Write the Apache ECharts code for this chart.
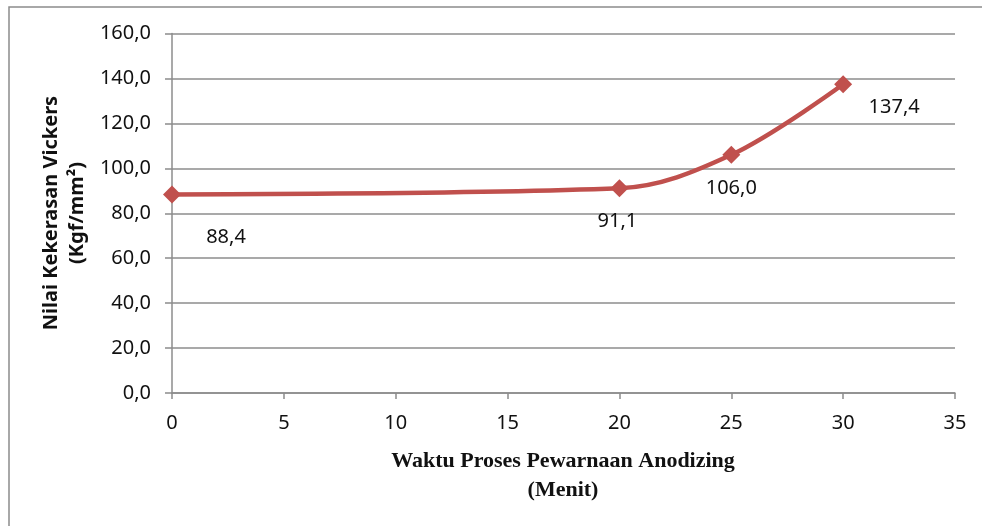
<!DOCTYPE html>
<html>
<head>
<meta charset="utf-8">
<script src="https://cdn.jsdelivr.net/npm/echarts@6/dist/echarts.min.js"></script>
<style>html,body{margin:0;padding:0;background:#fff}#c{width:982px;height:526px}</style>
</head>
<body>
<div id="c"></div>
<script>
const xValues = [0, 20, 25, 30];
const hardness = [88.4, 91.1, 106.0, 137.4];
const labelOffsets = [[54, 43], [-2, 33], [0, 33], [51, 23]];
const yTitle = 'Nilai Kekerasan Vickers\n(Kgf/mm²)';
const xTitle = 'Waktu Proses Pewarnaan Anodizing\n(Menit)';

const fmt = v => Number(v).toFixed(1).replace('.', ',');
const chart = echarts.init(document.getElementById('c'));
const gridColor = '#8c8c8c';
chart.setOption({
  animation: false,
  grid: { left: 172, right: 27, top: 33.5, bottom: 133 },
  xAxis: {
    type: 'value', min: 0, max: 35, interval: 5,
    axisLine: { show: true, lineStyle: { color: gridColor, width: 1.5 } },
    axisTick: { show: true, length: 6, lineStyle: { color: gridColor, width: 1.5 } },
    splitLine: { show: false },
    axisLabel: { color: '#111', fontFamily: 'Noto Sans', fontSize: 20, margin: 20 }
  },
  yAxis: {
    type: 'value', min: 0, max: 160, interval: 20,
    axisLine: { show: true, lineStyle: { color: gridColor, width: 1.5 } },
    axisTick: { show: true, length: 7, lineStyle: { color: gridColor, width: 1.5 } },
    splitLine: { show: true, lineStyle: { color: gridColor, width: 1.5 } },
    axisLabel: { color: '#111', fontFamily: 'Noto Sans', fontSize: 20, margin: 21, formatter: fmt }
  },
  series: [{
    type: 'line',
    smooth: 0.35,
    data: xValues.map((x, i) => ({
      value: [x, hardness[i]],
      label: { offset: labelOffsets[i] }
    })),
    symbol: 'diamond',
    symbolSize: 18,
    lineStyle: { color: '#C0504D', width: 4.5 },
    itemStyle: { color: '#C0504D' },
    label: {
      show: true, position: 'inside', color: '#111',
      fontFamily: 'Noto Sans', fontSize: 20,
      formatter: p => fmt(p.value[1])
    }
  }],
  graphic: [
    { type: 'rect', shape: { x: 9, y: 7, width: 1000, height: 560 }, style: { fill: 'none', stroke: '#8c8c8c', lineWidth: 1.5 }, z: -1 },
    { type: 'text', x: 64, y: 213, rotation: Math.PI / 2,
      style: { text: yTitle, font: 'bold 20px "Noto Sans"', fill: '#111', textAlign: 'center', textVerticalAlign: 'middle', lineHeight: 26 } },
    { type: 'text', x: 563, y: 476,
      style: { text: xTitle, font: 'bold 22px "Liberation Serif"', fill: '#111', textAlign: 'center', textVerticalAlign: 'middle', lineHeight: 29 } }
  ]
});
</script>
</body>
</html>
